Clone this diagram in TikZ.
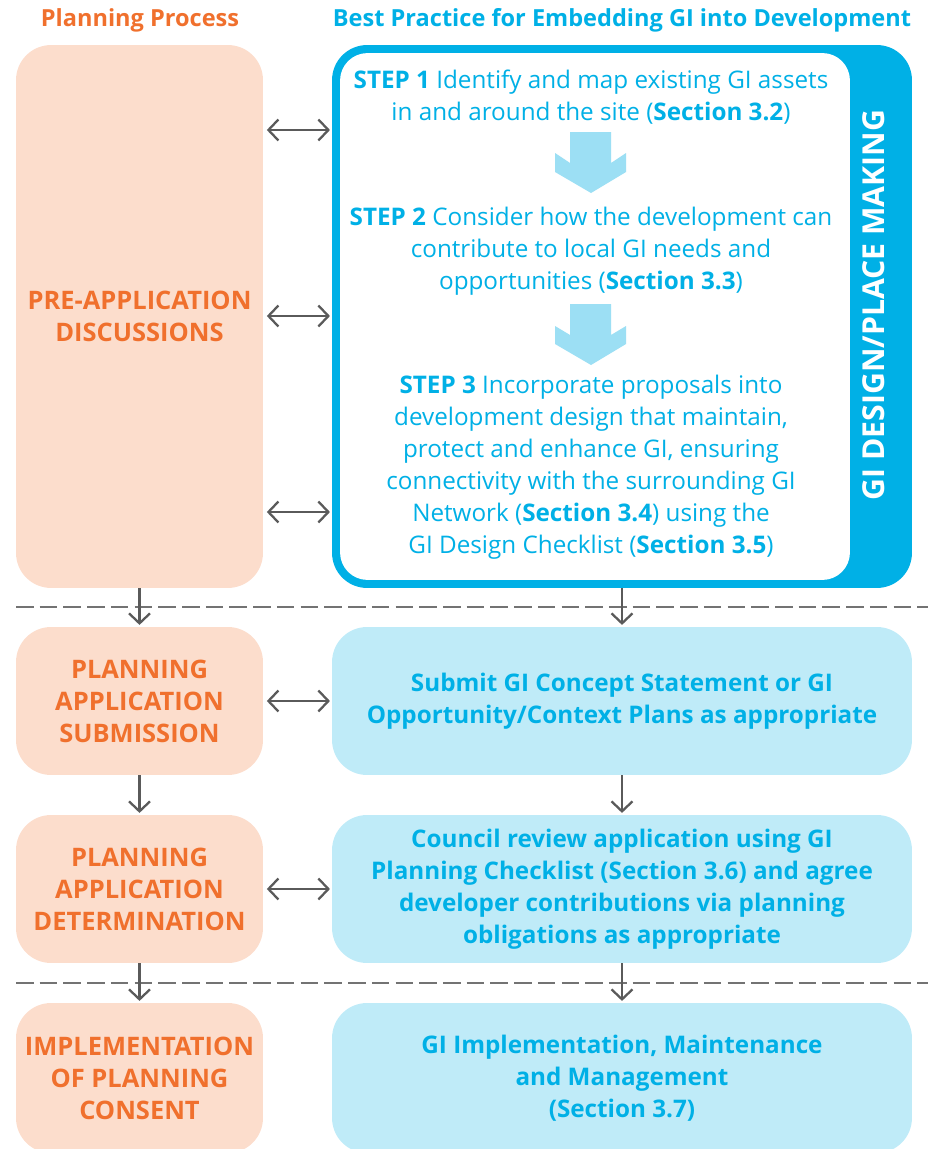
\documentclass[tikz,border=0pt]{standalone}
\usepackage{fontspec}
\setmainfont{Open Sans}
\usetikzlibrary{arrows.meta, positioning, calc}
\definecolor{procorange}{RGB}{240,112,45}
\definecolor{procpeach}{RGB}{252,221,204}
\definecolor{giblue}{RGB}{0,176,230}
\definecolor{gipale}{RGB}{191,235,248}
\definecolor{chevblue}{RGB}{156,223,244}
\definecolor{linkgray}{RGB}{90,90,90}
\definecolor{dashgray}{RGB}{115,115,115}

\begin{document}
\begin{tikzpicture}[
    x=0.02cm, y=-0.02cm,
    stage/.style={rectangle, fill=procpeach, rounded corners=0.7cm, minimum width=4.94cm, minimum height=2.96cm, align=center, text=procorange, font=\fontsize{14.5}{18.2}\selectfont\bfseries},
    practice/.style={rectangle, fill=gipale, rounded corners=0.7cm, minimum width=11.6cm, minimum height=2.96cm, align=center, text=giblue, font=\fontsize{13.8}{18.2}\selectfont\bfseries},
    steptext/.style={align=center, text=giblue, font=\fontsize{13.8}{18.2}\selectfont},
    heading/.style={font=\fontsize{13.4}{15}\selectfont\bfseries},
    arrow/.style={-{Straight Barb[length=2mm, width=4.2mm]}, line width=1.3pt, draw=linkgray},
    both/.style={{Straight Barb[length=2mm, width=4.2mm]}-{Straight Barb[length=2mm, width=4.2mm]}, line width=1.3pt, draw=linkgray},
    divider/.style={draw=dashgray, line width=1.1pt, dash pattern=on 10pt off 3.5pt},
    chevron/.style={fill=chevblue}
]
\clip (0,0) rectangle (928,1149);

% Column headings
\node[heading, text=procorange] (hplan) at (140,20) {Planning Process};
\node[heading, text=giblue] (hbest) at (622,20) {Best Practice for Embedding GI into Development};

% Left column: planning process
\node[stage, minimum height=10.86cm] (pre) at (139.5,316.5) {PRE-APPLICATION\\DISCUSSIONS};
\node[stage] (sub) at (139.5,701) {PLANNING\\APPLICATION\\SUBMISSION};
\node[stage] (det) at (139.5,889) {PLANNING\\APPLICATION\\DETERMINATION};
\node[stage, minimum height=3cm] (impl) at (139.5,1078) {IMPLEMENTATION\\OF PLANNING\\CONSENT};

% Right column: design frame with the three steps
\node[rectangle, fill=giblue, rounded corners=0.7cm, minimum width=11.6cm, minimum height=10.86cm] (frame) at (622,316.5) {};
\node[rectangle, fill=white, rounded corners=0.55cm, minimum width=10.2cm, minimum height=10.54cm] (inner) at (595,316.5) {};
\node[rotate=90, text=white, font=\fontsize{17.2}{20}\selectfont\bfseries] (gidesign) at (874,305) {GI DESIGN/PLACE MAKING};

\node[steptext] (step1) at (591,97) {{\bfseries STEP 1} Identify and map existing GI assets\\in and around the site ({\bfseries Section 3.2})};
\node[steptext] (step2) at (591,251) {{\bfseries STEP 2} Consider how the development can\\contribute to local GI needs and\\opportunities ({\bfseries Section 3.3})};
\node[steptext] (step3) at (591,467) {{\bfseries STEP 3} Incorporate proposals into\\development design that maintain,\\protect and enhance GI, ensuring\\connectivity with the surrounding GI\\Network ({\bfseries Section 3.4}) using the\\GI Design Checklist ({\bfseries Section 3.5})};

% Block arrows between the steps
\fill[chevron] (570,132) -- (611,132) -- (611,163) -- (626,153) -- (626,172) -- (591,193) -- (555,172) -- (555,153) -- (570,163) -- cycle;
\fill[chevron] (570,304) -- (611,304) -- (611,335) -- (626,326) -- (626,344) -- (591,365) -- (555,344) -- (555,326) -- (570,335) -- cycle;

% Right column: later stages
\node[practice] (submit) at (622,701) {Submit GI Concept Statement or GI\\Opportunity/Context Plans as appropriate};
\node[practice] (review) at (622,889) {Council review application using GI\\Planning Checklist (Section 3.6) and agree\\developer contributions via planning\\obligations as appropriate};
\node[practice, minimum height=3cm] (manage) at (622,1078) {GI Implementation, Maintenance\\and Management\\(Section 3.7)};

% Stage dividers
\draw[divider] (16,607) -- (928,607);
\draw[divider] (16,983) -- (928,983);

% Links between the columns
\coordinate (lnk1) at (0,130);
\coordinate (lnk2) at (0,316);
\coordinate (lnk3) at (0,512);
\draw[both] ([xshift=2pt]pre.east |- lnk1) -- ([xshift=-1pt]frame.west |- lnk1);
\draw[both] ([xshift=2pt]pre.east |- lnk2) -- ([xshift=-1pt]frame.west |- lnk2);
\draw[both] ([xshift=2pt]pre.east |- lnk3) -- ([xshift=-1pt]frame.west |- lnk3);
\draw[both] ([xshift=2pt]sub.east) -- ([xshift=-1pt]submit.west);
\draw[both] ([xshift=2pt]det.east) -- ([xshift=-1pt]review.west);

% Flow down each column
\draw[arrow] (pre.south) -- ([yshift=1pt]sub.north);
\draw[arrow] (sub.south) -- ([yshift=1pt]det.north);
\draw[arrow] (det.south) -- ([yshift=1pt]impl.north);
\draw[arrow] (frame.south) -- ([yshift=1pt]submit.north);
\draw[arrow] (submit.south) -- ([yshift=1pt]review.north);
\draw[arrow] (review.south) -- ([yshift=1pt]manage.north);

\end{tikzpicture}
\end{document}
